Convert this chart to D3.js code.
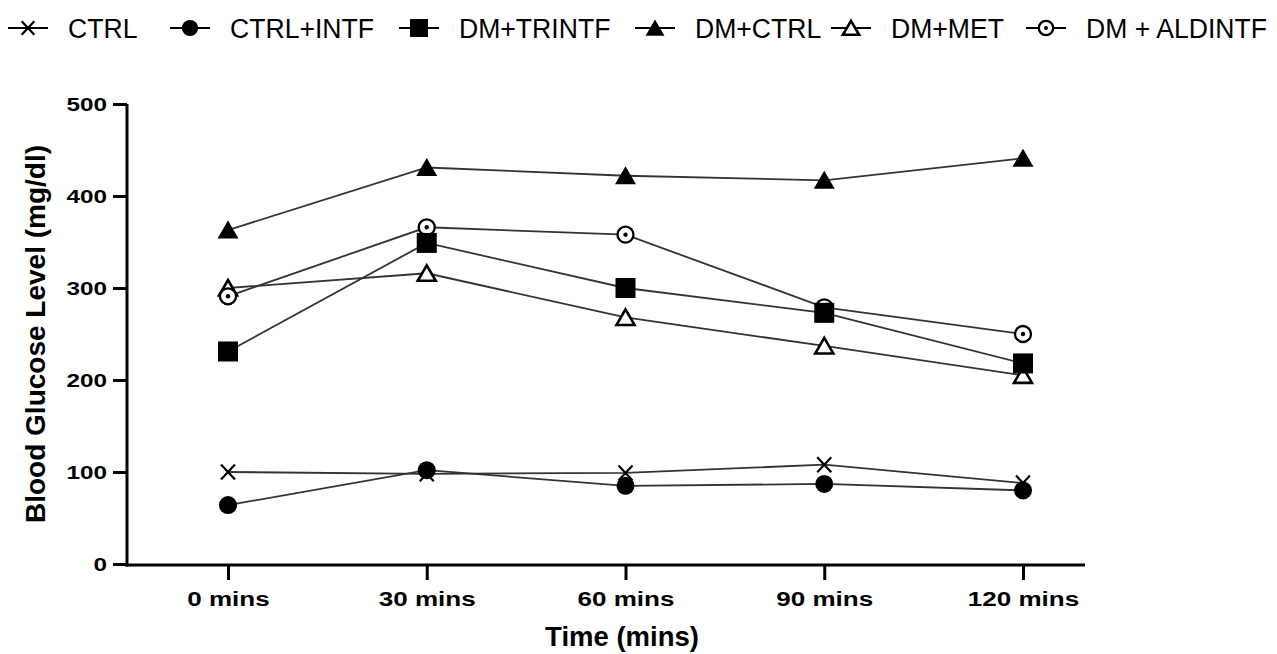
<!DOCTYPE html>
<html>
<head>
<meta charset="utf-8">
<script src="https://cdn.jsdelivr.net/npm/d3@7"></script>
<style>
  body { margin: 0; background: #fff; }
  text { font-family: "Liberation Sans", Arial, sans-serif; fill: #000; }
</style>
</head>
<body>
<div id="chart-area"></div>
<script>
// data
var times = ["0 mins", "30 mins", "60 mins", "90 mins", "120 mins"];
var yTicks = [0, 100, 200, 300, 400, 500];
var groups = ["CTRL", "CTRL+INTF", "DM+TRINTF", "DM+CTRL", "DM+MET", "DM + ALDINTF"];
var markers = ["x", "dot", "square", "tri", "otri", "cdot"];

var ctrl      = [100, 98, 99, 108, 88];
var ctrlIntf  = [64, 102, 85, 87, 80];
var dmTrintf  = [231, 349, 300, 273, 218];
var dmCtrl    = [363, 431, 422, 417, 441];
var dmMet     = [300, 316, 268, 237, 205];
var dmAldintf = [291, 366, 358, 279, 250];

var seriesValues = [ctrl, ctrlIntf, dmTrintf, dmCtrl, dmMet, dmAldintf];
// draw order so overlaps look like the original
var drawOrder = [0, 1, 4, 3, 5, 2];
var legendX = [28, 190, 419, 655, 851, 1046];

var svgWidth = 1277, svgHeight = 654;
var axisLeftX = 127, axisRightX = 1085, axisBottomY = 565;

var svg = d3.select("#chart-area")
            .append("svg")
            .attr("width", svgWidth)
            .attr("height", svgHeight);

var x = d3.scalePoint().domain(times).range([228, 1023]);
var y = d3.scaleLinear().domain([0, 500]).range([564, 104]);

// y axis
var yAxisGroup = svg.append("g")
                    .attr("transform", "translate(" + axisLeftX + ",0)")
                    .call(d3.axisLeft(y).tickValues(yTicks).tickSize(14).tickSizeOuter(0).tickPadding(6));
yAxisGroup.select(".domain").attr("stroke-width", 3).attr("d", "M0," + y(500) + "V" + (axisBottomY + 1.5));
yAxisGroup.selectAll(".tick line").attr("stroke-width", 3);
var sy = 1.28;
yAxisGroup.selectAll(".tick text")
          .attr("font-size", 19)
          .attr("font-weight", "bold")
          .attr("font-family", "'Liberation Sans', Arial, sans-serif")
          .attr("x", -20 / sy)
          .attr("transform", "scale(" + sy + ",1)");

// x axis
var xAxisGroup = svg.append("g")
                    .attr("transform", "translate(0," + axisBottomY + ")")
                    .call(d3.axisBottom(x).tickSize(15).tickSizeOuter(0));
xAxisGroup.select(".domain").remove();
xAxisGroup.append("line")
          .attr("x1", axisLeftX - 1.5).attr("x2", axisRightX)
          .attr("stroke", "#000").attr("stroke-width", 3);
xAxisGroup.selectAll(".tick line").attr("stroke-width", 3);
var sx = 1.24;
xAxisGroup.selectAll(".tick text")
          .attr("font-size", 21)
          .attr("font-weight", "bold")
          .attr("font-family", "'Liberation Sans', Arial, sans-serif")
          .attr("y", 41)
          .attr("dy", 0)
          .attr("transform", "scale(" + sx + ",1)");

svg.append("text")
   .attr("x", 622)
   .attr("y", 646)
   .attr("text-anchor", "middle")
   .attr("font-size", 27.5)
   .attr("font-weight", "bold")
   .text("Time (mins)");

svg.append("text")
   .attr("transform", "translate(45,334) rotate(-90)")
   .attr("text-anchor", "middle")
   .attr("font-size", 28)
   .attr("font-weight", "bold")
   .text("Blood Glucose Level (mg/dl)");

function drawMarker(sel, type, k) {
  k = k || 1;
  if (type === "x") {
    sel.append("path")
       .attr("d", "M" + (-7 * k) + "," + (-7.5 * k) + "L" + (7 * k) + "," + (7.5 * k) +
                  "M" + (-7 * k) + "," + (7.5 * k) + "L" + (7 * k) + "," + (-7.5 * k))
       .attr("stroke", "#000").attr("stroke-width", 2.2).attr("fill", "none");
  } else if (type === "dot") {
    sel.append("circle").attr("r", 9 * k).attr("fill", "#000");
  } else if (type === "square") {
    sel.append("rect")
       .attr("x", -10 * k).attr("y", -10 * k)
       .attr("width", 20 * k).attr("height", 20 * k)
       .attr("fill", "#000");
  } else if (type === "tri") {
    sel.append("path")
       .attr("d", "M0," + (-9.5 * k) + "L" + (10.5 * k) + "," + (8.5 * k) + "L" + (-10.5 * k) + "," + (8.5 * k) + "Z")
       .attr("fill", "#000");
  } else if (type === "otri") {
    sel.append("path")
       .attr("d", "M0," + (-8 * k) + "L" + (9 * k) + "," + (7.5 * k) + "L" + (-9 * k) + "," + (7.5 * k) + "Z")
       .attr("fill", "#fff").attr("stroke", "#000").attr("stroke-width", 2.6)
       .attr("stroke-linejoin", "miter");
  } else if (type === "cdot") {
    sel.append("circle").attr("r", 8 * k).attr("fill", "#fff")
       .attr("stroke", "#000").attr("stroke-width", 2.3);
    sel.append("circle").attr("r", 2.2 * k).attr("fill", "#000");
  }
}

var line = d3.line()
             .x(function(d, i) { return x(times[i]); })
             .y(function(d) { return y(d); });

// lines first
svg.append("g").selectAll("path")
   .data(seriesValues)
   .enter().append("path")
   .attr("d", function(d) { return line(d); })
   .attr("fill", "none")
   .attr("stroke", "#333")
   .attr("stroke-width", 1.8);

// markers
drawOrder.forEach(function(s) {
  var mg = svg.append("g").attr("class", "markers");
  seriesValues[s].forEach(function(v, i) {
    var p = mg.append("g").attr("transform", "translate(" + x(times[i]) + "," + y(v) + ")");
    drawMarker(p, markers[s]);
  });
});

// legend
var legend = svg.append("g").attr("class", "legend");
groups.forEach(function(name, i) {
  var item = legend.append("g").attr("transform", "translate(" + legendX[i] + ",28)");
  item.append("line")
      .attr("x1", -20).attr("x2", 20)
      .attr("stroke", "#000").attr("stroke-width", 2);
  drawMarker(item, markers[i], 0.9);
  item.append("text")
      .attr("x", 40 / 0.95)
      .attr("y", 10)
      .attr("font-size", 28)
      .attr("transform", "scale(0.95,1)")
      .text(name);
});
</script>
</body>
</html>
